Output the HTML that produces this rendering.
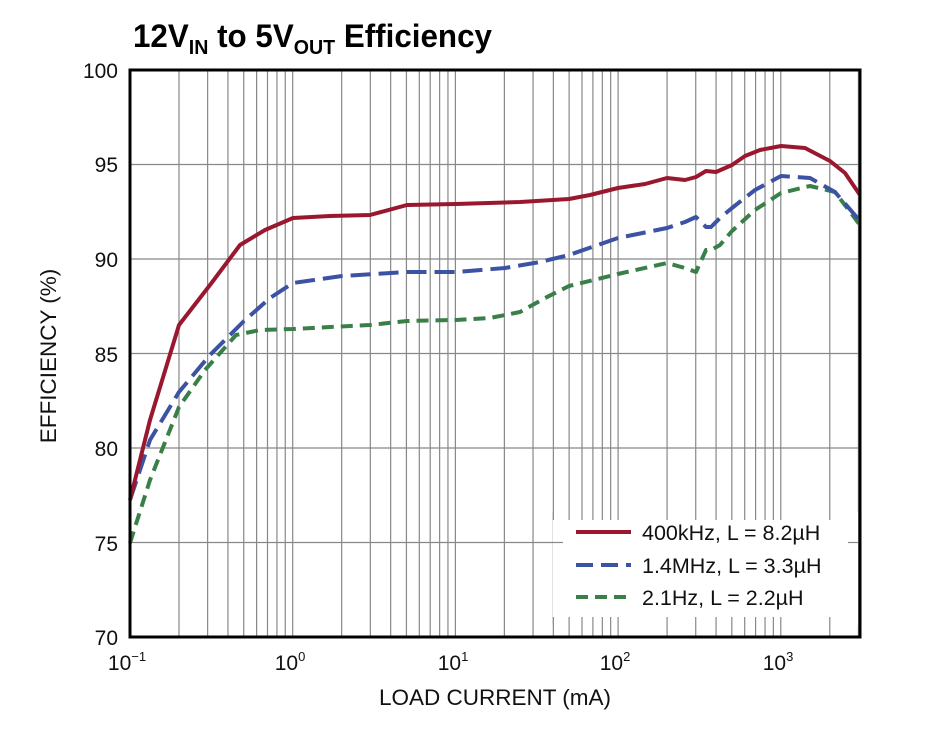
<!DOCTYPE html>
<html><head><meta charset="utf-8"><style>
body{margin:0;background:#fff;width:933px;height:745px;overflow:hidden}
text{font-family:"Liberation Sans",Arial,sans-serif}
</style></head><body>
<svg width="933" height="745" xmlns="http://www.w3.org/2000/svg">
<text x="133" y="47" font-size="32" font-weight="bold" transform="translate(133,0) scale(0.98,1) translate(-133,0)">12V<tspan font-size="20" dy="7">IN</tspan><tspan dy="-7"> to 5V</tspan><tspan font-size="20" dy="7">OUT</tspan><tspan dy="-7"> Efficiency</tspan></text>
<g id="grid" stroke="#888" stroke-width="1.2"></g>
<rect x="553" y="512" width="305" height="113" fill="#fff"/>
<g stroke="#888" stroke-width="1.2" id="ticks"></g>
<g fill="none" stroke-width="4" stroke-linejoin="round" stroke-linecap="butt">
<polyline stroke="#3a7f48" stroke-dasharray="12,7" points="130,543 150,480 179,407 205,370 236,335 260,330 293,329 330,327 370,325 407,321 456,320 490,318 520,312 545,298 569,286 618,274 667,263 685,268 696,272 706,250 711,250 720,245 732,231 755,210 781,193 810,186 835,192 860,225"/>
<polyline stroke="#3c52a3" stroke-dasharray="20,8" points="130,500 150,440 179,392 210,355 244,321 270,298 293,283 342,276 407,272 456,272 505,268 540,262 569,255 618,238 667,228 685,222 696,217 706,227 711,227 720,218 732,208 755,190 781,176 810,178 835,192 860,221"/>
<polyline stroke="#99182f" points="130,500 150,420 179,325 210,285 240,245 265,230 293,218 330,216 370,215 407,205 456,204 520,202 569,199 590,195 618,188 645,184 667,178 685,180 696,177 706,171 716,172 732,165 745,156 760,150 781,146 805,148 830,161 845,173 860,195"/>
</g>
<rect x="130" y="70" width="730" height="567" fill="none" stroke="#000" stroke-width="3"/>
<line x1="576" y1="532" x2="631" y2="532" stroke="#99182f" stroke-width="4"/>
<line x1="576" y1="565" x2="631" y2="565" stroke="#3c52a3" stroke-width="4" stroke-dasharray="17,8"/>
<line x1="576" y1="597" x2="631" y2="597" stroke="#3a7f48" stroke-width="4" stroke-dasharray="12,7"/>
<g font-size="21.5" fill="#111">
<text x="642" y="540">400kHz, L = 8.2µH</text>
<text x="642" y="573">1.4MHz, L = 3.3µH</text>
<text x="642" y="605">2.1Hz, L = 2.2µH</text>
</g>
<g font-size="21" text-anchor="end" fill="#111">
<text x="118" y="78">100</text><text x="118" y="172">95</text><text x="118" y="267">90</text>
<text x="118" y="362">85</text><text x="118" y="456">80</text><text x="118" y="551">75</text><text x="118" y="645">70</text>
</g>
<g font-size="21" text-anchor="middle" fill="#111">
<text x="127" y="670">10<tspan font-size="13" dy="-9">−1</tspan></text>
<text x="290" y="670">10<tspan font-size="13" dy="-9">0</tspan></text>
<text x="453" y="670">10<tspan font-size="13" dy="-9">1</tspan></text>
<text x="615" y="670">10<tspan font-size="13" dy="-9">2</tspan></text>
<text x="778" y="670">10<tspan font-size="13" dy="-9">3</tspan></text>
<text x="495" y="705" font-size="22.5">LOAD CURRENT (mA)</text>
<text transform="translate(56,356) rotate(-90)" font-size="22.5">EFFICIENCY (%)</text>
</g>
<script>
var g=document.getElementById('grid'),t=document.getElementById('ticks'),ns='http://www.w3.org/2000/svg';
function L(p,a,b,c,d){var l=document.createElementNS(ns,'line');l.setAttribute('x1',a);l.setAttribute('y1',b);l.setAttribute('x2',c);l.setAttribute('y2',d);p.appendChild(l);}
for(var d=-1;d<4;d++)for(var k=1;k<10;k++){var x=130+(d+1+Math.log10(k))*162.7;if(x>859)break;if(x<131)continue;L(g,x,70,x,637);
if(x>553&&x<858){L(t,x,512,x,520);L(t,x,617,x,625);}}
for(var i=1;i<6;i++){var y=70+i*94.5;L(g,130,y,860,y);if(y>512&&y<625){L(t,553,y,563,y);L(t,848,y,858,y);}}
</script>
</svg>
</body></html>
